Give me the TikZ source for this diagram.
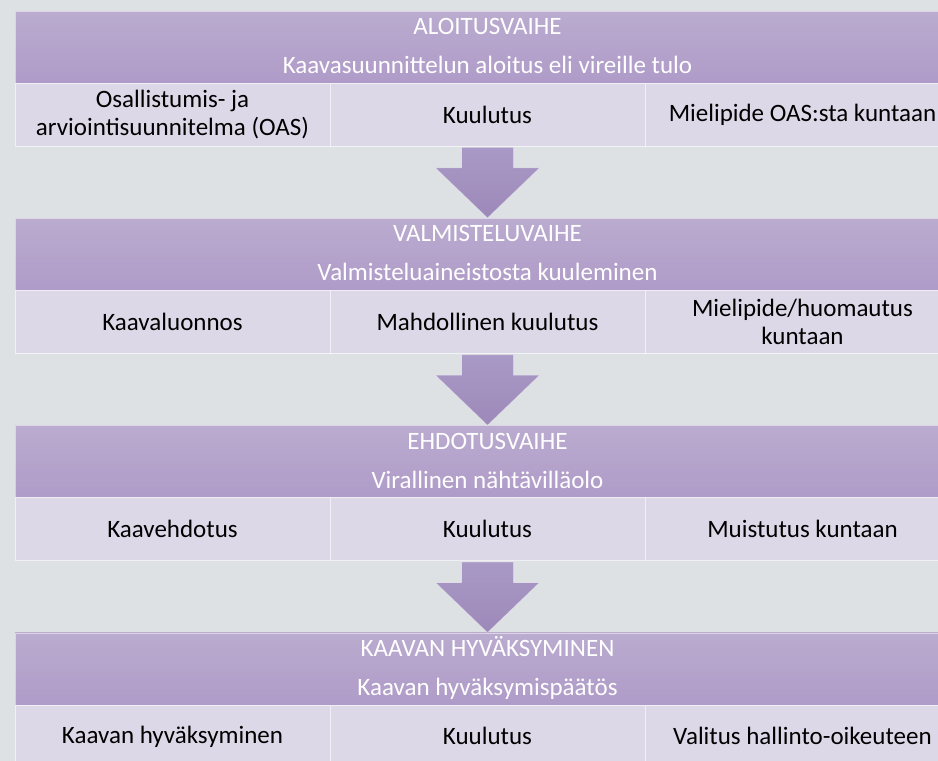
\documentclass[tikz,border=0pt]{standalone}
\usepackage{fontspec}
\setmainfont{Carlito}
\usepackage{xcolor}
\usetikzlibrary{calc}

\definecolor{pagegrey}{HTML}{DEE1E4}
\definecolor{stagetop}{HTML}{BAABCF}
\definecolor{stagebot}{HTML}{AF9BC8}
\definecolor{tasklilac}{HTML}{DDD8E7}
\definecolor{arrowtop}{HTML}{A999C6}
\definecolor{arrowbot}{HTML}{9D89B9}

\tikzset{
  stage/.style={rectangle, top color=stagetop, bottom color=stagebot, draw=white, draw opacity=0.5,
    line width=0.8pt, minimum width=945pt, minimum height=72pt, inner sep=0pt},
  stagetext/.style={anchor=base, text=white, inner sep=0pt},
  task/.style={rectangle, fill=tasklilac, draw=white, draw opacity=0.6, line width=0.8pt,
    minimum width=315pt, minimum height=63pt, align=center, inner sep=0pt},
  flow/.style={top color=arrowtop, bottom color=arrowbot, draw=white, draw opacity=0.4, line width=0.6pt}
}

% block arrow from the middle task of one stage to the next stage
\newcommand{\stagearrow}[2]{%
  \shade[flow] ($(#1.south)+(-26,1)$) -- ($(#1.south)+(26,1)$) -- ($(#2.north)+(26,-50)$)
    -- ($(#2.north)+(52,-50)$) -- (#2.north) -- ($(#2.north)+(-52,-50)$)
    -- ($(#2.north)+(-26,-50)$) -- cycle;}

\begin{document}
\begin{tikzpicture}[x=1pt, y=-1pt, font=\fontsize{25}{28}\selectfont]
    \fill[pagegrey] (0,0) rectangle (938,761);
    \useasboundingbox (0,0) rectangle (938,761);
    \clip (0,0) rectangle (938,761);
    % aloitusvaihe
    \path (487.5, 47) node [stage] (st1) {};
    \path (st1.north) ++(0,24) node [stagetext] (st1a) {ALOITUSVAIHE};
    \path (st1.north) ++(0,63) node [stagetext] (st1b) {Kaavasuunnittelun aloitus eli vireille tulo};
    \path (172.5, 114.5) node [task] (ta1) {Osallistumis- ja\\arviointisuunnitelma (OAS)};
    \path (487.5, 114.5) node [task] (tb1) {Kuulutus};
    \path (802.5, 114.5) node [task] (tc1) {Mielipide OAS:sta kuntaan};
    % valmisteluvaihe
    \path (487.5, 254.3) node [stage] (st2) {};
    \path (st2.north) ++(0,24) node [stagetext] (st2a) {VALMISTELUVAIHE};
    \path (st2.north) ++(0,63) node [stagetext] (st2b) {Valmisteluaineistosta kuuleminen};
    \path (172.5, 321.8) node [task] (ta2) {Kaavaluonnos};
    \path (487.5, 321.8) node [task] (tb2) {Mahdollinen kuulutus};
    \path (802.5, 321.8) node [task] (tc2) {Mielipide/huomautus\\kuntaan};
    \stagearrow{tb1}{st2}
    % ehdotusvaihe
    \path (487.5, 461.6) node [stage] (st3) {};
    \path (st3.north) ++(0,24) node [stagetext] (st3a) {EHDOTUSVAIHE};
    \path (st3.north) ++(0,63) node [stagetext] (st3b) {Virallinen nähtävilläolo};
    \path (172.5, 529.1) node [task] (ta3) {Kaavehdotus};
    \path (487.5, 529.1) node [task] (tb3) {Kuulutus};
    \path (802.5, 529.1) node [task] (tc3) {Muistutus kuntaan};
    \stagearrow{tb2}{st3}
    % hyvaksyminen
    \path (487.5, 668.9) node [stage] (st4) {};
    \path (st4.north) ++(0,24) node [stagetext] (st4a) {KAAVAN HYVÄKSYMINEN};
    \path (st4.north) ++(0,63) node [stagetext] (st4b) {Kaavan hyväksymispäätös};
    \path (172.5, 736.4) node [task] (ta4) {Kaavan hyväksyminen};
    \path (487.5, 736.4) node [task] (tb4) {Kuulutus};
    \path (802.5, 736.4) node [task] (tc4) {Valitus hallinto-oikeuteen};
    \stagearrow{tb3}{st4}
\end{tikzpicture}
\end{document}
